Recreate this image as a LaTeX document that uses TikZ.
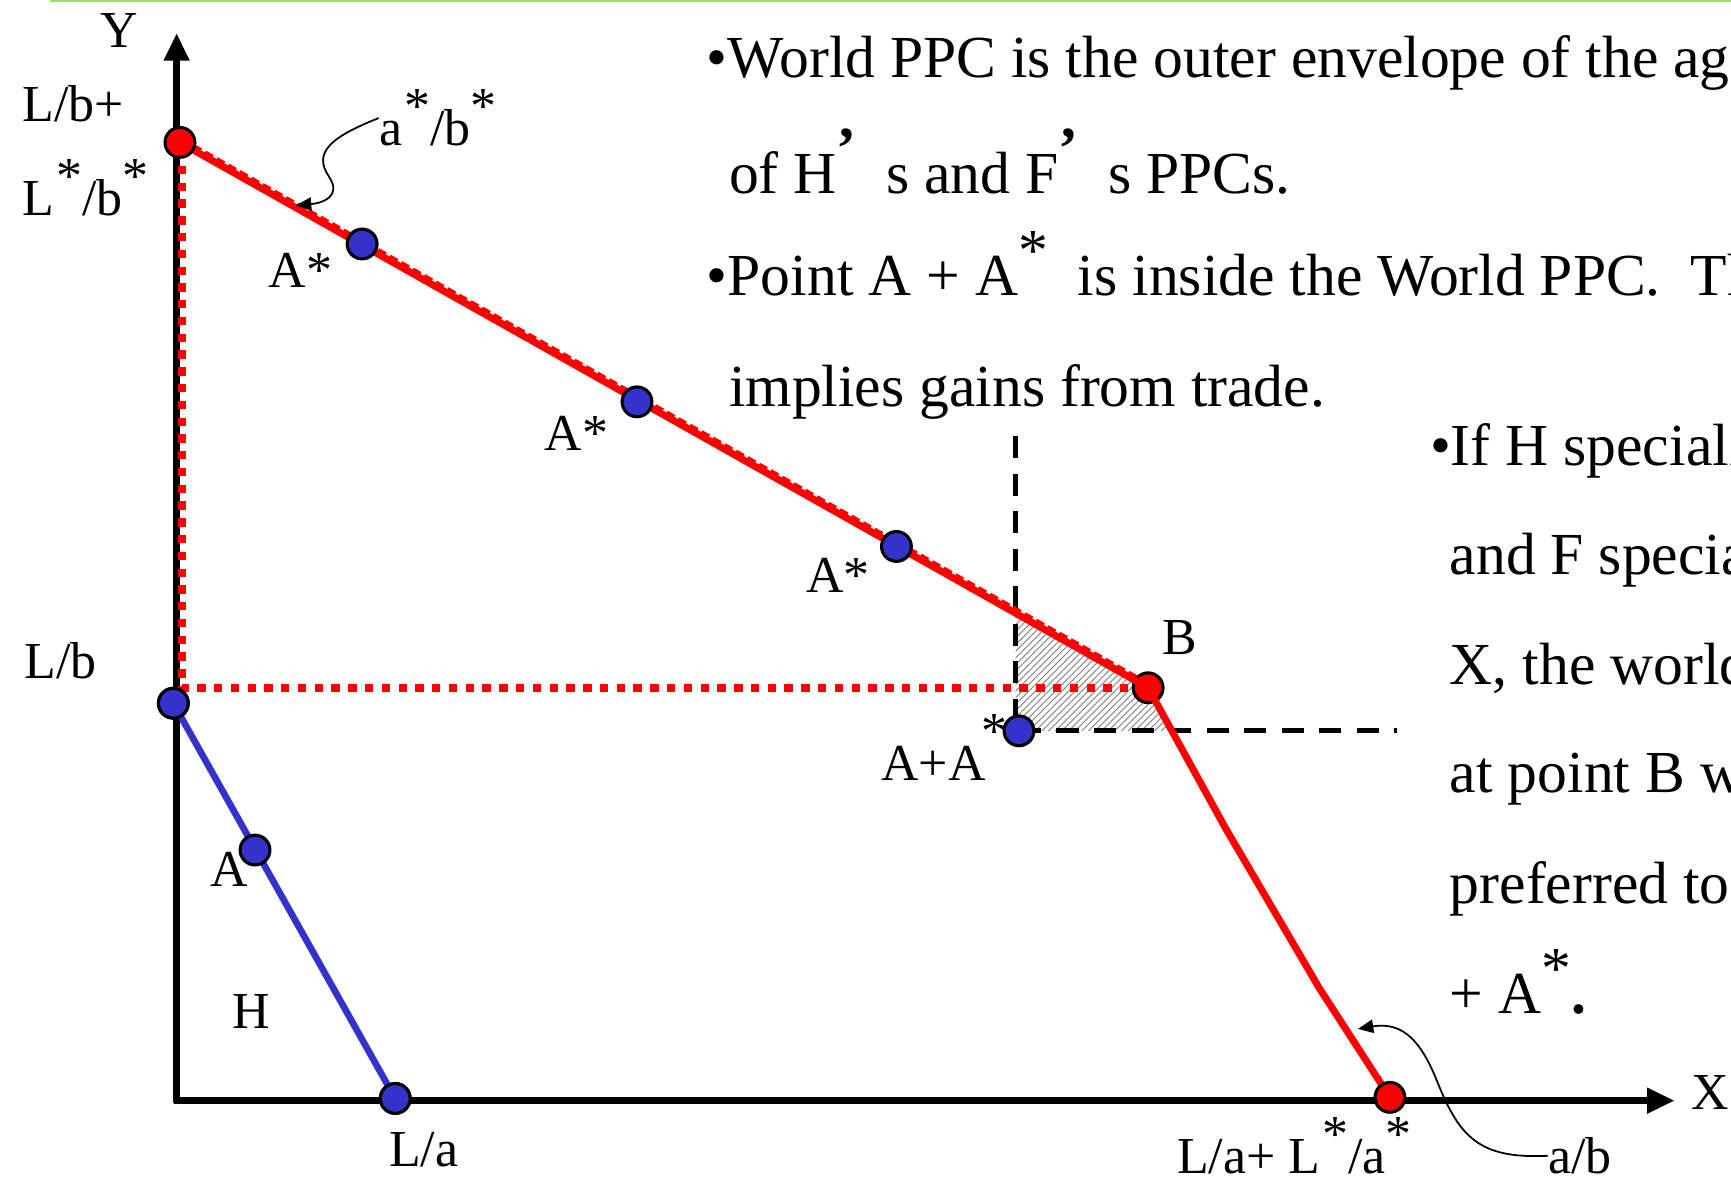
\documentclass[tikz,border=0pt]{standalone}
\usepackage{fontspec}
\setmainfont{Liberation Serif}
\usetikzlibrary{arrows.meta,patterns,calc}
\definecolor{myblue}{RGB}{51,51,204}
\definecolor{topgreen}{RGB}{160,224,96}
\newcommand{\upstar}{\raisebox{0.42em}{*}}
\newcommand{\upquote}{\raisebox{0.42em}{\textbf{’}}}
\begin{document}
\begin{tikzpicture}[x=0.5pt,y=-0.5pt,
  lbl/.style={font=\fontsize{23.5}{28}\selectfont, inner sep=0pt, anchor=base west},
  txt/.style={font=\fontsize{27}{32}\selectfont, inner sep=0pt, anchor=base west},
  dotb/.style={circle, fill=myblue, draw=black, line width=1.4pt, minimum size=13.5pt, inner sep=0pt},
  dotr/.style={circle, fill=red, draw=black, line width=1.4pt, minimum size=13.5pt, inner sep=0pt},
  axis/.style={line width=3pt, -{Triangle[length=12.5pt,width=11pt]}},
  ppcred/.style={red, line width=3.2pt, line join=round},
  ppcblue/.style={myblue, line width=3pt},
  reddots/.style={red, line width=3.8pt, dash pattern=on 3.8pt off 3.8pt},
  blackdash/.style={black, line width=2.4pt, dash pattern=on 10pt off 7pt},
  curvearrow/.style={black, line width=0.8pt, -{Triangle[length=7pt,width=6pt]}}
]
\useasboundingbox (0,0) rectangle (1568,1072);
\clip (0,0) rectangle (1568,1072);
\fill[white] (0,0) rectangle (1568,1072);
\draw[topgreen, line width=1.2pt] (45,1) -- (1568,1);

% coordinates
\coordinate (O) at (160,997);
\coordinate (Ytop) at (160,30);
\coordinate (Xend) at (1517,997);
\coordinate (P1) at (163,129);
\coordinate (Bp) at (1040,623);
\coordinate (K1) at (1110,750);
\coordinate (K2) at (1195,895);
\coordinate (P2) at (1259,994);
\coordinate (Cm) at (165,623);
\coordinate (Vt) at (920,557);
\coordinate (Lo) at (1060,662);
\coordinate (AA) at (923,662);
\coordinate (F1) at (165,126);
\coordinate (F2) at (1042,620);

% hatched gains region
\fill[pattern=north east lines, pattern color=gray] (Vt) -- (Bp) -- (Lo) -- (920,662) -- cycle;

% axes
\draw[axis] (160,999) -- (Ytop);
\draw[axis] (158,997) -- (Xend);

% point B (drawn beneath the curves)
\node[dotr] (Bd) at (Bp) {};

% dotted red lines
\draw[reddots] (165,135) -- (Cm) -- (Bp);

% black dashed lines
\draw[blackdash] (920,395) -- (920,650);
\draw[blackdash] (AA) -- (1265,662);

% F's PPC (dashed) and world PPC
\draw[red, line width=1.5pt, dash pattern=on 4pt off 2pt] (F1) -- (F2);
\draw[ppcred] (P1) -- (Bp) -- (K1) -- (K2) -- (P2);

% H's PPC
\node[dotb] (H0) at (157,637) {};
\node[dotb] (H1) at (358,995) {};
\draw[ppcblue] (H0.center) -- (H1.center);
\node[dotb] at (H0) {};
\node[dotb] at (H1) {};

% dots
\node[dotr] (R1) at (P1) {};
\node[dotr] (R2) at (P2) {};
\node[dotb] (A) at (231,770) {};
\node[dotb] (As1) at (328,221) {};
\node[dotb] (As2) at (577,364) {};
\node[dotb] (As3) at (812,495) {};
\node[dotb] (AAd) at (AA) {};

% axis labels
\node[lbl, anchor=base] (ly) at (108,43) {Y};
\node[lbl] (lx) at (1532,1005) {X};
\node[lbl] (l1) at (20,110) {L/b+};
\node[lbl] (l2) at (20,195) {L\kern1pt\upstar/b\upstar};
\node[lbl] (ab1) at (343,132) {a\kern1pt\upstar/b\upstar};
\node[lbl] (t1) at (243,260) {A*};
\node[lbl] (t2) at (493,408) {A*};
\node[lbl] (t3) at (730,537) {A*};
\node[lbl] (lb) at (22,615) {L/b};
\node[lbl] (la) at (190,803) {A};
\node[lbl] (lh) at (210,932) {H};
\node[lbl] (laa) at (352,1057) {L/a};
\node[lbl] (lB) at (1053,593) {B};
\node[lbl] (lAA) at (798,707) {A+A};
\node[lbl, anchor=center] (lAAs) at (901,663) {*};
\node[lbl] (lsum) at (1066,1063) {L/a+ L\kern1pt\upstar/a\upstar};
\node[lbl] (ab2) at (1402,1063) {a/b};

% curved pointer arrows
\coordinate (tip1) at (268,186);
\coordinate (tip2) at (1230,932);
\draw[curvearrow] (ab1.west) .. controls (300,124) and (283,138) .. (298,160) .. controls (310,178) and (292,184) .. (tip1);
\draw[curvearrow] (ab2.west) .. controls (1340,1050) and (1322,1030) .. (1302,980) .. controls (1288,945) and (1272,925) .. (tip2);

% explanatory text
\node[txt] (w1) at (640,70) {•World PPC is the outer envelope of the ag};
\node[txt] (w2) at (660,175) {of H\upquote\ \ s and F\upquote\ \ s PPCs.};
\node[txt] (w3) at (640,268) {•Point A + A\upstar\ \ is inside the World PPC.\ \ Th};
\node[txt] (w4) at (660,368) {implies gains from trade.};
\node[txt] (s1) at (1295,422) {•If H specializ};
\node[txt] (s2) at (1313,520) {and F specia};
\node[txt] (s3) at (1313,620) {X, the world};
\node[txt] (s4) at (1313,718) {at point B wi};
\node[txt] (s5) at (1313,818) {preferred to};
\node[txt] (s6) at (1313,918) {+ A\upstar\textbf{.}};
\end{tikzpicture}
\end{document}
